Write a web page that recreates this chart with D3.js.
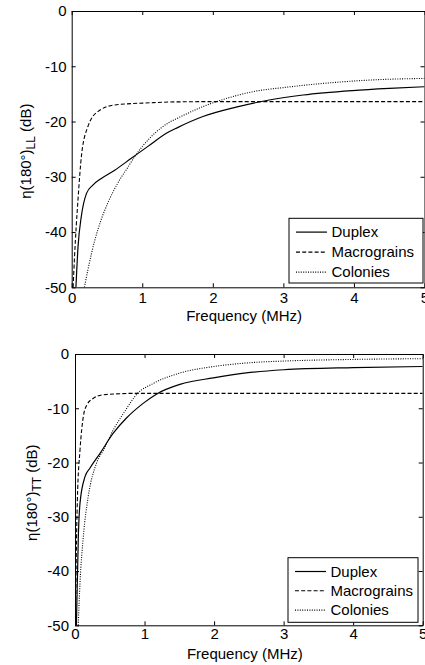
<!DOCTYPE html>
<html><head><meta charset="utf-8">
<script src="https://cdn.jsdelivr.net/npm/d3@7/dist/d3.min.js"></script>
<style>body{margin:0;background:#fff}svg{display:block}text{font-family:"Liberation Sans",Arial,sans-serif;fill:#000}</style>
</head><body><svg id="c" width="425" height="665"></svg>
<script>
const xTicks = [0,1,2,3,4,5];
const yTicks = [0,-10,-20,-30,-40,-50];
const seriesNames = ["Duplex","Macrograins","Colonies"];
// Top plot: eta(180)_LL
const llDuplexF = [0.06,0.09,0.136,0.21,0.30,0.42,0.61,0.84,1.08,1.36,1.5,1.86,2.33,2.8,3.28,3.98,4.5,5.0];
const llDuplexV = [-50,-42.6,-37.2,-33,-31.5,-30.3,-28.8,-26.7,-24.5,-22.0,-21.1,-19.1,-17.4,-16.1,-15.2,-14.4,-14.0,-13.7];
const llMacroF = [0.02,0.04,0.09,0.14,0.23,0.37,0.61,1.13,1.46,2,3,4,5];
const llMacroV = [-50,-44.5,-34,-26,-20.9,-18.2,-17.0,-16.6,-16.45,-16.4,-16.4,-16.4,-16.4];
const llColF = [0.18,0.28,0.37,0.51,0.65,0.80,0.89,1.13,1.39,1.5,1.86,2.1,2.57,3.04,3.75,4.22,5.0];
const llColV = [-50,-43.9,-39.6,-34.8,-31.2,-28.2,-26.4,-22.7,-20.1,-19.4,-17.3,-16.2,-14.6,-13.8,-12.9,-12.5,-12.2];
// Bottom plot: eta(180)_TT
const ttDuplexF = [0.02,0.048,0.072,0.144,0.216,0.36,0.55,0.74,0.98,1.17,1.51,1.99,2.52,3.0,4.0,5.0];
const ttDuplexV = [-50,-33.6,-27.5,-22.6,-21.0,-18.3,-14.6,-11.8,-9.1,-7.4,-5.6,-4.4,-3.4,-2.9,-2.5,-2.3];
const ttMacroF = [0.008,0.014,0.034,0.072,0.12,0.17,0.26,0.41,0.89,2,3,4,5];
const ttMacroV = [-50,-42,-26.9,-17.7,-11.5,-9.4,-8.2,-7.5,-7.25,-7.25,-7.25,-7.25,-7.25];
const ttColF = [0.046,0.072,0.12,0.19,0.31,0.41,0.55,0.70,0.89,1.13,1.51,2.0,2.52,3.0,4.0,5.0];
const ttColV = [-50,-42.2,-33.6,-26.3,-20.1,-17.7,-14,-10.9,-7.4,-5.4,-3.5,-2.3,-1.6,-1.3,-1.0,-0.86];

const styles = [{dash:null,w:1.2},{dash:"4,2.2",w:1.1},{dash:"1,1.4",w:1.1}];
const svg = d3.select("#c");

function panel(cfg){
  const x = d3.scaleLinear().domain([0,5]).range([cfg.l,cfg.r]);
  const y = d3.scaleLinear().domain([-50,0]).range([cfg.b,cfg.t]);
  const g = svg.append("g");
  const cid = "clip"+cfg.id;
  g.append("clipPath").attr("id",cid).append("rect")
    .attr("x",cfg.l).attr("y",cfg.t).attr("width",cfg.r-cfg.l).attr("height",cfg.b-cfg.t);
  const ax = (sel)=>{sel.selectAll(".domain").attr("stroke","#000").attr("stroke-width",1);
    sel.selectAll(".tick line").attr("stroke","#000");
    sel.selectAll("text").style("font-size","15px").attr("fill","#000")
      .attr("font-family","Liberation Sans, Arial, sans-serif");};
  const fmt = d=>String(d);
  g.append("g").attr("transform",`translate(0,${cfg.b})`)
    .call(d3.axisBottom(x).tickValues(xTicks).tickSizeInner(-4).tickSizeOuter(0).tickPadding(cfg.xp).tickFormat(fmt)).call(ax);
  g.append("g").attr("transform",`translate(0,${cfg.t})`)
    .call(d3.axisTop(x).tickValues(xTicks).tickSizeInner(-4).tickSizeOuter(0).tickFormat("")).call(ax);
  g.append("g").attr("transform",`translate(${cfg.l},0)`)
    .call(d3.axisLeft(y).tickValues(yTicks).tickSizeInner(-4).tickSizeOuter(0).tickPadding(cfg.yp).tickFormat(fmt)).call(ax);
  g.append("g").attr("transform",`translate(${cfg.r},0)`)
    .call(d3.axisRight(y).tickValues(yTicks).tickSizeInner(-4).tickSizeOuter(0).tickFormat("")).call(ax);

  const line = d3.line().x(d=>x(d[0])).y(d=>y(d[1])).curve(d3.curveMonotoneX);
  cfg.series.forEach((s,i)=>{
    const pts = s[0].map((f,j)=>[f,s[1][j]]);
    g.append("path").attr("d",line(pts)).attr("fill","none").attr("stroke","#000")
      .attr("stroke-width",styles[i].w).attr("stroke-dasharray",styles[i].dash)
      .attr("clip-path",`url(#${cid})`);
  });
  // legend
  const L = cfg.leg;
  g.append("rect").attr("x",L.x).attr("y",L.y).attr("width",L.w).attr("height",L.h)
    .attr("fill","#fff").attr("stroke","#000").attr("stroke-width",1);
  seriesNames.forEach((n,i)=>{
    const yy = L.y+13.8+i*L.sp;
    g.append("line").attr("x1",L.x+7).attr("x2",L.x+38).attr("y1",yy).attr("y2",yy)
      .attr("stroke","#000").attr("stroke-width",styles[i].w).attr("stroke-dasharray",styles[i].dash);
    g.append("text").attr("x",L.x+42.5).attr("y",yy+5.3).style("font-size","15px").text(n);
  });
  // axis titles
  g.append("text").attr("x",(cfg.l+cfg.r)/2 - 4).attr("y",cfg.b+34).attr("text-anchor","middle")
    .style("font-size","15px").text("Frequency (MHz)");
  const yl = g.append("text").attr("transform",`translate(${cfg.yl},${(cfg.t+cfg.b)/2+cfg.yo}) rotate(-90)`)
    .attr("text-anchor","middle").style("font-size","15px");
  yl.append("tspan").text("η(180°)");
  yl.append("tspan").attr("dy",4).style("font-size","12px").text(cfg.sub);
  yl.append("tspan").attr("dy",-4).text(" (dB)");
}

panel({id:1,l:71.7,r:424.5,t:11,b:287.3,yl:31,yo:2,xp:5,yp:5,sub:"LL",
  series:[[llDuplexF,llDuplexV],[llMacroF,llMacroV],[llColF,llColV]],
  leg:{x:289,y:218.3,w:134,h:64.7,sp:20}});
panel({id:2,l:75,r:422.7,t:354,b:625.3,yl:36.5,yo:3,xp:3,yp:6,sub:"TT",
  series:[[ttDuplexF,ttDuplexV],[ttMacroF,ttMacroV],[ttColF,ttColV]],
  leg:{x:288,y:557.7,w:130,h:64.6,sp:19.3}});
</script></body></html>
